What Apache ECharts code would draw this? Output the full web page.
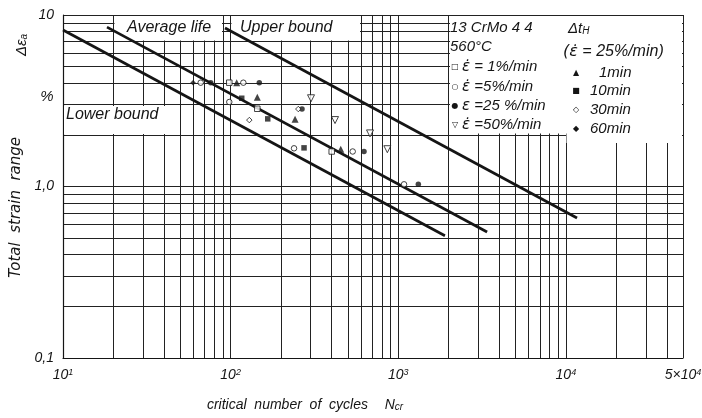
<!DOCTYPE html>
<html>
<head>
<meta charset="utf-8">
<script src="https://cdn.jsdelivr.net/npm/echarts@6/dist/echarts.min.js"></script>
<style>
  html, body { margin: 0; background: #fff; }
  #chart { width: 702px; height: 418px; }
</style>
</head>
<body>
<div id="chart"></div>
<script>
  // log grid: lines at 1..9 of every decade
  const xGridValues = [10, 20, 30, 40, 50, 60, 70, 80, 90, 100, 200, 300, 400, 500, 600, 700, 800, 900,
    1000, 2000, 3000, 4000, 5000, 6000, 7000, 8000, 9000, 10000, 20000, 30000, 40000, 50000]
  const yGridValues = [0.1, 0.2, 0.3, 0.4, 0.5, 0.6, 0.7, 0.8, 0.9, 1, 2, 3, 4, 5, 6, 7, 8, 9, 10]
  const xLabelValues = [10, 100, 1000, 10000, 50000]
  const xLabelText = ['10{s|1}', '10{s|2}', '10{s|3}', '10{s|4}', '5×10{s|4}']
  const yLabelValues = [0.1, 1, 10]
  const yLabelText = ['0,1', '1,0', '10']

  // scatter-band lines [N, strain %]
  const lowerBound = [[10, 8.18], [1900, 0.516]]
  const averageLife = [[18.3, 8.5], [3390, 0.543]]
  const upperBound = [[92.6, 8.4], [11660, 0.655]]

  // strain rate series
  const rate1 = [[98.2, 4.03], [144.3, 2.84], [401, 1.6]]
  const rate5 = [[66.3, 4.03], [119.1, 4.03], [98.2, 3.11], [239, 1.67], [535, 1.6], [1083, 1.03]]
  const rate25 = [[76.1, 4.03], [148.3, 4.03], [266.7, 2.83], [625, 1.6], [1318, 1.03]]
  const rate50 = [[301.8, 3.27], [419.7, 2.44], [678.8, 2.04], [861, 1.65]]
  // hold time series (rate 25 %/min)
  const hold1 = [[108.7, 4.03], [144.3, 3.31], [242.3, 2.47], [453.9, 1.65]]
  const hold10 = [[116.5, 3.27], [166.5, 2.48], [274.2, 1.68]]
  const hold30 = [[129.3, 2.44], [253.5, 2.83]]
  const hold60 = [[59.7, 4.03]]

  const ink = '#151515'
  const font = '"Liberation Sans", "DejaVu Sans", sans-serif'
  const wideFont = '"DejaVu Sans", sans-serif'

  const pickLabel = (values, texts, v) => {
    let best = 0
    values.forEach((item, index) => {
      if (Math.abs(Math.log10(item) - Math.log10(v)) < Math.abs(Math.log10(values[best]) - Math.log10(v))) best = index
    })
    return texts[best]
  }

  const markSeries = (name, data, symbol, filled, rotate) => ({
    name,
    type: 'scatter',
    data,
    symbol,
    symbolSize: symbol === 'triangle' ? 7 : 5.5,
    symbolRotate: rotate || 0,
    itemStyle: filled ? { color: ink } : { color: '#fff', borderColor: ink, borderWidth: 1 },
    z: 4,
  })

  const boundSeries = (name, data) => ({
    name,
    type: 'line',
    data,
    symbol: 'none',
    silent: true,
    lineStyle: { color: ink, width: 2.7 },
    z: 3,
  })

  const txt = (x, y, text, extra) => ({
    type: 'text',
    x,
    y,
    z: 6,
    silent: true,
    style: Object.assign({ text, font: 'italic 15px ' + font, fill: ink, verticalAlign: 'middle' }, extra || {}),
  })
  // legend line with a dotted epsilon (strain rate) drawn in DejaVu for the combining dot
  const rateTxt = (x, y, eps, rest, size) => txt(x, y, '{e|' + eps + '}{t|' + rest + '}', {
    rich: {
      e: { font: 'italic ' + (size || 15) + 'px ' + wideFont, fill: ink },
      t: { font: 'italic ' + (size || 15) + 'px ' + font, fill: ink },
    },
  })
  const sym = (x, y, glyph) => txt(x, y, glyph, { font: '8px ' + wideFont, align: 'center' })
  const box = (x, y, w, h) => ({
    type: 'rect', z: 1, silent: true, shape: { x, y, width: w, height: h }, style: { fill: '#fff' },
  })

  const options = {
    animation: false,
    grid: { left: 63, right: 19, top: 15, bottom: 60, containLabel: false, outerBoundsMode: 'none' },
    xAxis: {
      type: 'log',
      logBase: 10,
      min: 10,
      max: 50000,
      axisLine: { show: true, lineStyle: { color: ink, width: 1.2 } },
      axisTick: { show: false, customValues: xGridValues },
      splitLine: { show: true, lineStyle: { color: '#222', width: 1 } },
      axisLabel: {
        customValues: xLabelValues,
        formatter: (v) => pickLabel(xLabelValues, xLabelText, v),
        margin: 10,
        color: ink,
        fontFamily: font,
        fontStyle: 'italic',
        fontSize: 14,
        rich: { s: { fontSize: 9, fontStyle: 'italic', fontFamily: font, color: ink, verticalAlign: 'top' } },
      },
      name: '{t|critical  number  of  cycles}     {t|N}{c|cr}',
      nameLocation: 'middle',
      nameGap: 40,
      nameTextStyle: {
        padding: [0, 136, 0, 0],
        rich: {
          t: { fontSize: 14, fontStyle: 'italic', fontFamily: font, color: ink },
          c: { fontSize: 10, fontStyle: 'italic', fontFamily: font, color: ink, verticalAlign: 'bottom' },
        },
      },
    },
    yAxis: {
      type: 'log',
      logBase: 10,
      min: 0.1,
      max: 10,
      axisLine: { show: true, lineStyle: { color: ink, width: 1.2 } },
      axisTick: { show: false, customValues: yGridValues },
      splitLine: { show: true, lineStyle: { color: '#222', width: 1 } },
      axisLabel: {
        customValues: yLabelValues,
        formatter: (v) => pickLabel(yLabelValues, yLabelText, v),
        margin: 9,
        color: ink,
        fontFamily: font,
        fontStyle: 'italic',
        fontSize: 14,
      },
      name: 'Total  strain  range',
      nameLocation: 'middle',
      nameGap: 30,
      nameRotate: 90,
      nameTextStyle: { fontFamily: wideFont, fontStyle: 'italic', fontSize: 15, color: ink, padding: [0, 42, 0, 0] },
    },
    graphic: [
      // white label fields that interrupt the grid
      box(114.5, 16, 107.5, 24.5),
      box(231.5, 16, 128.5, 24.5),
      box(64, 106, 112, 28),
      box(450, 16, 232, 117.5),
      box(566.5, 16, 115.5, 127),
      txt(127, 28, 'Average life', { font: 'italic 16px ' + font }),
      txt(240, 28, 'Upper bound', { font: 'italic 16px ' + font }),
      txt(66, 115, 'Lower bound', { font: 'italic 16px ' + font }),
      txt(47, 97, '%', { font: 'italic 15px ' + font, align: 'center' }),
      {
        type: 'text', x: 22, y: 45, rotation: Math.PI / 2, z: 6, silent: true,
        style: {
          text: '{d|Δε}{a|a}', align: 'center', verticalAlign: 'middle',
          rich: {
            d: { font: 'italic 15px ' + font, fill: ink },
            a: { font: 'italic 10px ' + font, fill: ink, verticalAlign: 'bottom' },
          },
        },
      },
      // legend, left column
      txt(450, 28, '13 CrMo 4 4'),
      txt(450, 47, '560°C'),
      sym(455, 67, '□'), rateTxt(462, 67, 'ε\u0307', ' = 1%/min'),
      sym(455, 87, '○'), rateTxt(462, 87, 'ε\u0307', ' =5%/min'),
      sym(455, 106, '●'), rateTxt(462, 106, 'ε', ' =25 %/min'),
      sym(455, 125, '▽'), rateTxt(462, 125, 'ε\u0307', ' =50%/min'),
      // legend, right column
      {
        type: 'text', x: 568, y: 29, z: 6, silent: true,
        style: {
          text: '{d|Δt}{h|H}', verticalAlign: 'middle',
          rich: {
            d: { font: 'italic 15px ' + font, fill: ink },
            h: { font: 'italic 10px ' + font, fill: ink, verticalAlign: 'bottom' },
          },
        },
      },
      rateTxt(563, 52, '(ε\u0307', ' = 25%/min)', 16),
      sym(576, 73, '▲'), txt(599, 73, '1min'),
      sym(576, 91, '■'), txt(590, 91, '10min'),
      sym(576, 110, '◇'), txt(590, 110, '30min'),
      sym(576, 129, '◆'), txt(590, 129, '60min'),
    ],
    series: [
      boundSeries('Lower bound', lowerBound),
      boundSeries('Average life', averageLife),
      boundSeries('Upper bound', upperBound),
      markSeries('ε = 1%/min', rate1, 'rect', false),
      markSeries('ε = 5%/min', rate5, 'circle', false),
      markSeries('ε = 25%/min', rate25, 'circle', true),
      markSeries('ε = 50%/min', rate50, 'triangle', false, 180),
      markSeries('1min', hold1, 'triangle', true),
      markSeries('10min', hold10, 'rect', true),
      markSeries('30min', hold30, 'diamond', false),
      markSeries('60min', hold60, 'diamond', true),
    ],
  }

  const chart = echarts.init(document.getElementById('chart'))
  chart.setOption(options)
  window.addEventListener('resize', function () {
    chart && chart.resize()
  })
</script>
</body>
</html>
